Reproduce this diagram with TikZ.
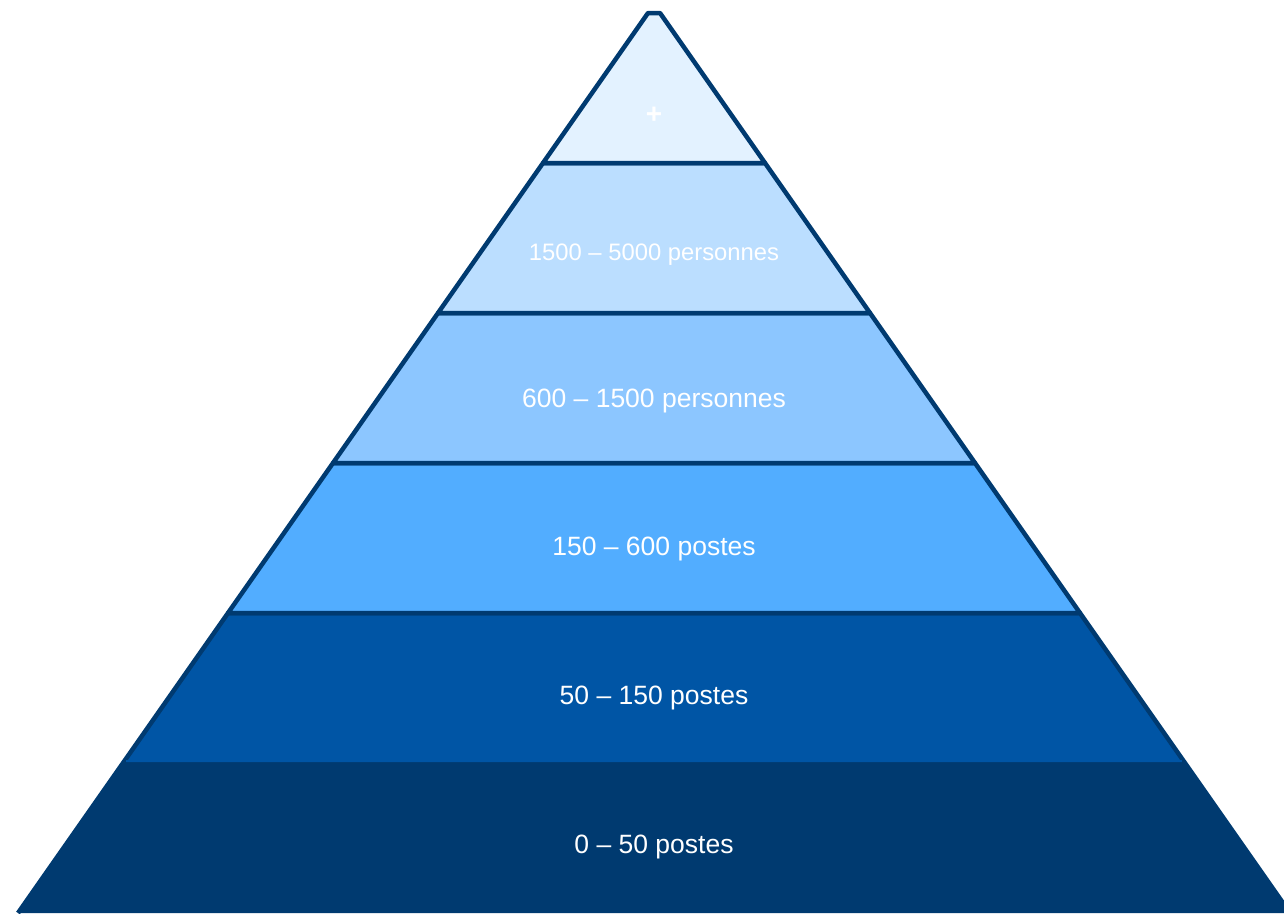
\documentclass[tikz,border=0pt]{standalone}
\usepackage{fontspec}
\setmainfont{Liberation Sans}
\definecolor{edge}{HTML}{003A70}
\definecolor{lay1}{HTML}{E3F2FF}
\definecolor{lay2}{HTML}{BBDEFF}
\definecolor{lay3}{HTML}{8CC6FF}
\definecolor{lay4}{HTML}{52ADFF}
\definecolor{lay5}{HTML}{0055A5}
\definecolor{lay6}{HTML}{003A70}
\tikzset{
  layer/.style={draw=edge, line width=4.5pt, line join=round},
  lbl/.style={text=white, font=\fontsize{26.5}{30}\selectfont, inner sep=0pt, anchor=base},
  lblsmall/.style={text=white, font=\fontsize{23.8}{28}\selectfont, inner sep=0pt, anchor=base},
}
\begin{document}
\begin{tikzpicture}[x=1pt,y=-1pt]
\useasboundingbox (0,0) rectangle (1284,913);
\clip (0,0) rectangle (1284,913);
% half widths: h(y)=6+0.7(y-13)
\fill[lay6] (654-636,913) -- (654-530.3,762) -- (654+530.3,762) -- (654+636,913) -- cycle;
\draw[layer, draw=lay6] (654-636,913) -- (654-530.3,762) -- (654+530.3,762) -- (654+636,913);
\draw[layer, fill=lay5] (654-530.3,762) -- (654-426,613) -- (654+426,613) -- (654+530.3,762);
\fill[lay5] (654-528,762) -- (654+528,762) -- (654+528,760) -- (654-528,760) -- cycle;
\draw[layer, fill=lay4] (654-426,613) -- (654-321,463) -- (654+321,463) -- (654+426,613) -- cycle;
\draw[layer, fill=lay3] (654-321,463) -- (654-216,313) -- (654+216,313) -- (654+321,463) -- cycle;
\draw[layer, fill=lay2] (654-216,313) -- (654-111,163) -- (654+111,163) -- (654+216,313) -- cycle;
\draw[layer, fill=lay1] (654-111,163) -- (654-6,13) -- (654+6,13) -- (654+111,163) -- cycle;
\node[text=white, font=\fontsize{28}{30}\selectfont\bfseries, inner sep=0pt] (l1) at (654,115) {+};
\node[lblsmall] (l2) at (654,260) {1500 – 5000 personnes};
\node[lbl] (l3) at (654,407) {600 – 1500 personnes};
\node[lbl] (l4) at (654,555) {150 – 600 postes};
\node[lbl] (l5) at (654,704) {50 – 150 postes};
\node[lbl] (l6) at (654,853) {0 – 50 postes};
\end{tikzpicture}
\end{document}
